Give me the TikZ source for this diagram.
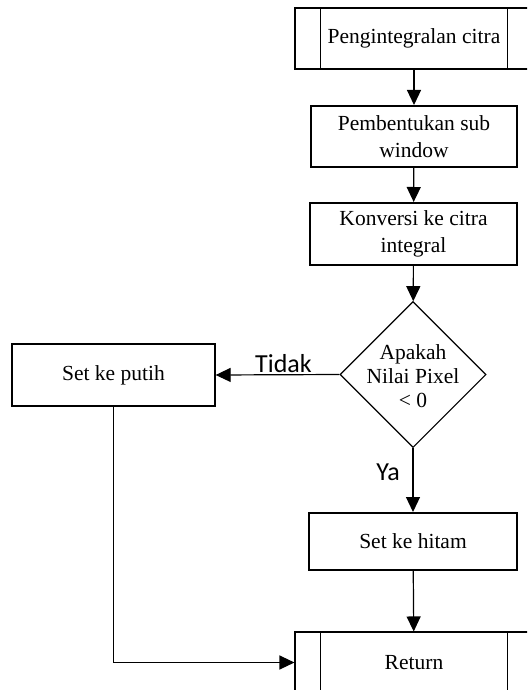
\documentclass[tikz,border=0pt]{standalone}
\usepackage{fontspec}
\setmainfont{Liberation Serif}
\newfontfamily\lblfont{Carlito}
\usetikzlibrary{shapes.geometric,arrows.meta}
\begin{document}
\begin{tikzpicture}[x=1pt,y=-1pt,
  txt/.style={font=\fontsize{21.5}{27}\selectfont, align=center},
  procbox/.style={txt, draw, line width=2pt, rectangle, inner sep=0pt},
  predef/.style={txt, draw, line width=1.1pt, rectangle, inner sep=0pt, minimum width=238pt, minimum height=61pt},
  decis/.style={draw, line width=1.1pt, diamond, aspect=1, inner sep=0pt, minimum size=146pt},
  conn/.style={line width=1.2pt, -{Triangle[length=15pt,width=14pt]}},
  lbl/.style={font=\lblfont\fontsize{26}{30}\selectfont, anchor=base, inner sep=0pt}
]
\useasboundingbox (0,0) rectangle (527,690);
\clip (0,0) rectangle (527,690);
\fill[white] (0,0) rectangle (527,690);

\node[predef] (pre) at (414,38.5) {Pengintegralan citra};
\draw[line width=1.1pt] ([xshift=26pt]pre.north west) -- ([xshift=26pt]pre.south west);
\draw[line width=1.1pt] ([xshift=-26pt]pre.north east) -- ([xshift=-26pt]pre.south east);

\node[procbox, minimum width=206pt, minimum height=61pt] (sub) at (414,136.5) {Pembentukan sub\\window};
\node[procbox, minimum width=207pt, minimum height=62pt] (konv) at (413.5,234) {Konversi ke citra\\integral};
\node[decis] (dec) at (413,374.5) {};
\node[txt, font=\fontsize{21.5}{24}\selectfont, inner sep=0pt] (dectxt) at (413,376) {Apakah\\Nilai Pixel\\< 0};
\node[procbox, line width=1.3pt, minimum width=203pt, minimum height=62pt] (putih) at (113.5,375) {Set ke putih};
\node[procbox, minimum width=208pt, minimum height=57pt] (hitam) at (413,541.5) {Set ke hitam};

\node[predef] (ret) at (414,662.5) {Return};
\draw[line width=1.1pt] ([xshift=26pt]ret.north west) -- ([xshift=26pt]ret.south west);
\draw[line width=1.1pt] ([xshift=-26pt]ret.north east) -- ([xshift=-26pt]ret.south east);

\draw[conn] (pre) -- (sub);
\draw[conn] (sub) -- (konv);
\draw[conn] (konv) -- (dec);
\draw[conn] (dec.west) -- (putih.east);
\draw[conn] (dec.south) -- (hitam.north);
\draw[conn] (hitam) -- (ret);
\draw[conn] (putih.south) |- (ret.west);

\node[lbl] (tidak) at (283.5,372) {Tidak};
\node[lbl] (ya) at (388,480) {Ya};
\end{tikzpicture}
\end{document}
